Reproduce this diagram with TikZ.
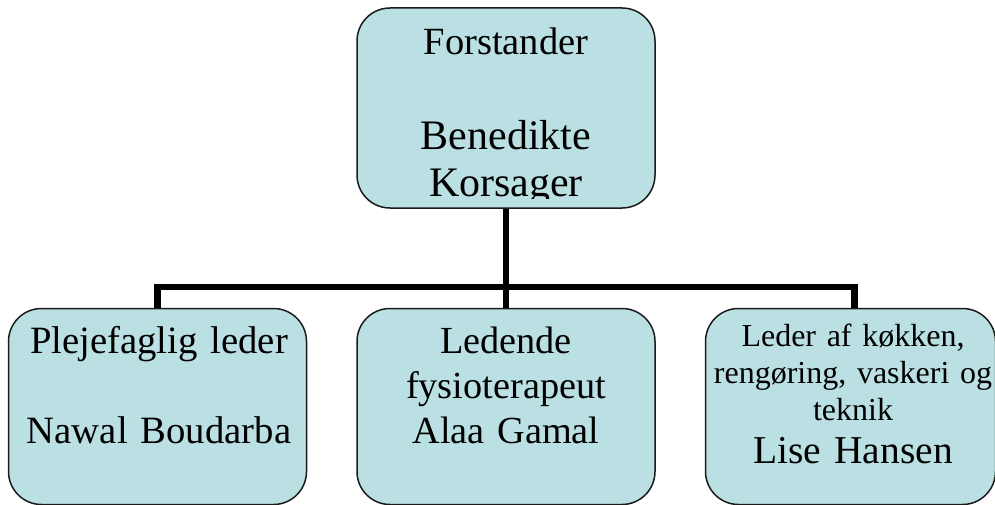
\documentclass[tikz,border=0pt]{standalone}
\usepackage{fontspec}
\setmainfont{Liberation Serif}
\usepackage{tikz}
\usetikzlibrary{positioning}
\definecolor{boxfill}{HTML}{BBE0E3}
\definecolor{boxline}{HTML}{1A1A1A}
\tikzset{
  orgbox/.style={draw=boxline,line width=1.5pt,rounded corners=33pt,fill=boxfill,minimum width=298pt,minimum height=196pt,inner sep=0pt},
  boxtext/.style={anchor=base,align=center,text width=320pt,inner sep=0pt},
  link/.style={line width=6.5pt,black}
}

\begin{document}
\begin{tikzpicture}[x=1pt,y=-1pt,node distance=99pt and 49pt]
  \useasboundingbox (0,0) rectangle (995,505);
  \node[orgbox,minimum height=200pt] (chief) at (506,108) {};
  \node[orgbox,below=of chief] (physio) {};
  \node[orgbox,left=of physio] (care) {};
  \node[orgbox,right=of physio,minimum width=290pt] (kitchen) {};

  \draw[link] (chief.south) -- (physio.north);
  \draw[link] (chief.south) -- ++(0,78) -| (care.north);
  \draw[link] (chief.south) -- ++(0,78) -| ([xshift=4pt]kitchen.north);

  % text of the boxes
  \begin{scope}
    \clip (357,8) rectangle (655,198);
    \node[boxtext,font=\fontsize{38.5}{45}\selectfont] (chieftitle) at (506,55) {Forstander};
    \node[boxtext,font=\fontsize{42}{47}\selectfont] (chiefname) at (506,150) {Benedikte\\Korsager};
  \end{scope}
  \node[boxtext,font=\fontsize{38.7}{45}\selectfont] (caretext) at (159,353) {Plejefaglig leder\\[45pt]Nawal Boudarba};
  \node[boxtext,font=\fontsize{38.3}{45}\selectfont] (physiotext) at (506,353) {Ledende\\fysioterapeut\\Alaa Gamal};
  \node[boxtext,font=\fontsize{32}{37}\selectfont] (kitchentext) at (853,346) {Leder af køkken,\\rengøring, vaskeri og\\teknik};
  \node[boxtext,font=\fontsize{39.5}{45}\selectfont] (kitchenname) at (853,463) {Lise Hansen};
\end{tikzpicture}
\end{document}
